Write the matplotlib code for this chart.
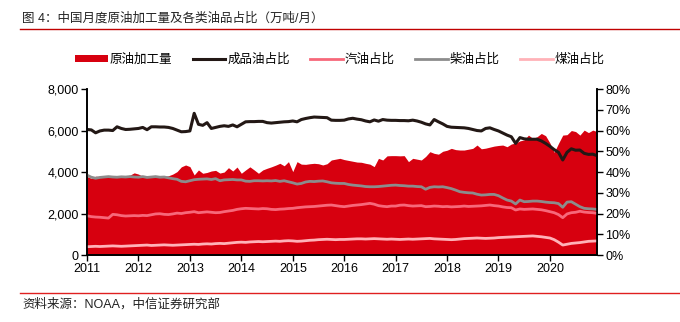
import numpy as np
import matplotlib
matplotlib.use("Agg")
import matplotlib.pyplot as plt
from matplotlib.ticker import FuncFormatter

plt.rcParams['font.family'] = ['Liberation Sans', 'Noto Sans CJK SC']

# monthly data, Jan 2011 - Dec 2020
crude = [  # 原油加工量, 万吨
    3780, 3700, 3800, 3780, 3790, 3760, 3800, 3780, 3790, 3800, 3850, 3960,
    3900, 3790, 3800, 3790, 3780, 3800, 3790, 3820, 3900, 4020, 4250, 4340,
    4260, 3860, 4100, 3940, 3980, 4050, 4080, 3950, 4000, 4210, 4050, 4240,
    3940, 4100, 4250, 4100, 3940, 4100, 4180, 4250, 4330, 4420, 4300, 4500,
    4020, 4500, 4380, 4370, 4400, 4420, 4400, 4340, 4400, 4580, 4620, 4660,
    4600, 4560, 4520, 4480, 4470, 4420, 4380, 4260, 4660, 4580, 4780, 4790,
    4790, 4780, 4790, 4500, 4660, 4620, 4580, 4750, 4980, 4900, 4860, 5000,
    5050, 5140, 5080, 5060, 5060, 5100, 5140, 5300, 5120, 5150, 5200, 5250,
    5280, 5300, 5220, 5350, 5400, 5500, 5550, 5780, 5620, 5700, 5860, 5750,
    5400, 4950, 5380, 5780, 5800, 6000, 5950, 5780, 6020, 5900, 6020, 5950,
]
refined = [  # 成品油占比, %
    60.5, 60.3, 58.9, 59.8, 60.2, 60.2, 60.0, 61.8, 61.0, 60.5, 60.6, 60.8,
    61.0, 61.5, 60.4, 61.8, 61.8, 61.7, 61.7, 61.5, 61.0, 60.2, 59.4, 59.5,
    59.8, 68.3, 63.0, 62.5, 63.8, 61.0, 61.5, 62.0, 62.3, 62.0, 62.7, 61.8,
    63.0, 64.2, 64.3, 64.3, 64.4, 64.4, 63.8, 63.6, 63.8, 64.0, 64.2, 64.3,
    64.6, 64.2, 65.3, 65.8, 66.2, 66.5, 66.4, 66.3, 66.2, 65.0, 64.9, 64.9,
    65.0, 65.6, 65.9, 65.5, 65.2, 64.6, 64.2, 65.1, 64.5, 65.3, 65.0, 64.9,
    64.9, 64.8, 64.8, 64.7, 65.0, 64.6, 64.0, 63.2, 62.7, 65.3, 64.2, 63.2,
    62.0, 61.6, 61.5, 61.4, 61.3, 61.0, 60.5, 60.0, 59.8, 61.0, 61.3, 60.5,
    59.8, 58.8, 57.8, 57.0, 53.8, 56.6, 56.0, 55.8, 55.8, 55.8, 55.0, 53.8,
    52.4, 50.8, 49.5, 45.8, 49.5, 51.2, 50.5, 50.6, 49.0, 48.5, 48.6, 47.9,
]
gasoline = [  # 汽油占比, %
    18.9, 18.5, 18.3, 18.2, 18.0, 17.8, 19.6, 19.4, 19.0, 18.8, 18.9, 19.0,
    18.9, 19.1, 19.0, 19.4, 19.8, 19.9, 19.6, 19.5, 19.8, 20.2, 20.0, 20.4,
    20.6, 20.9, 20.4, 20.6, 20.8, 20.6, 20.4, 20.5, 20.9, 21.2, 21.5, 22.0,
    22.3, 22.5, 22.4, 22.3, 22.2, 22.4, 22.3, 22.0, 21.9, 22.1, 22.2, 22.4,
    22.5, 22.8, 23.0, 23.2, 23.3, 23.4, 23.6, 23.8, 24.0, 24.1, 23.8, 23.5,
    23.3, 23.6, 23.9, 24.1, 24.3, 24.6, 24.9, 24.5, 23.8, 23.5, 23.3, 23.6,
    23.6, 24.0, 24.1, 23.8, 23.6, 23.7, 23.8, 23.3, 23.4, 23.6, 23.5, 23.3,
    23.4, 23.2, 23.3, 23.4, 23.6, 23.4, 23.5, 23.6, 23.7, 23.9, 24.1, 23.8,
    23.6, 23.2, 22.9, 22.8, 21.7, 22.2, 22.0, 22.1, 22.2, 22.0, 21.8, 21.4,
    20.9, 20.4, 19.5, 18.0, 19.8, 20.4, 20.6, 21.1, 20.7, 20.5, 20.4, 20.1,
]
diesel = [  # 柴油占比, %
    38.5, 37.5, 37.0, 37.4, 37.6, 37.8, 37.6, 37.5, 37.7, 37.6, 37.8, 37.6,
    37.5, 37.8, 37.4, 37.6, 37.8, 37.5, 37.6, 37.2, 36.8, 36.5, 35.5, 35.3,
    35.8, 36.3, 36.5, 36.6, 36.7, 36.4, 36.8, 35.8, 36.2, 36.3, 36.4, 36.2,
    36.2, 35.6, 35.5, 35.8, 35.8, 35.7, 35.8, 35.7, 35.9, 35.5, 35.8, 35.3,
    34.8, 34.2, 34.5, 35.2, 35.5, 35.4, 35.6, 35.7, 35.3, 34.8, 34.6, 34.5,
    34.5, 34.0, 33.7, 33.5, 33.3, 33.0, 32.9, 32.9, 33.0, 33.2, 33.4, 33.6,
    33.7, 33.5, 33.4, 33.2, 33.2, 33.0, 32.9, 31.7, 32.6, 32.9, 32.8, 32.9,
    32.5, 32.0, 31.3, 30.5, 30.2, 30.0, 29.9, 29.3, 28.9, 29.0, 29.2, 29.2,
    28.6, 27.5, 26.5, 26.0, 24.6, 26.5, 25.7, 25.8, 26.0, 26.0, 25.8, 25.5,
    25.3, 25.2, 24.8, 23.0, 25.5, 25.7, 24.5, 23.3, 22.5, 22.3, 22.2, 22.0,
]
kerosene = [  # 煤油占比, %
    4.0, 4.1, 4.2, 4.1, 4.2, 4.3, 4.4, 4.3, 4.2, 4.3, 4.4, 4.5,
    4.6, 4.7, 4.8, 4.6, 4.7, 4.8, 4.9, 4.8, 4.7, 4.8, 4.9, 5.0,
    5.1, 5.2, 5.1, 5.3, 5.4, 5.3, 5.5, 5.6, 5.5, 5.7, 5.9, 6.1,
    6.2, 6.1, 6.3, 6.4, 6.5, 6.4, 6.5, 6.6, 6.7, 6.6, 6.8, 6.9,
    6.8, 6.6, 6.7, 6.9, 7.1, 7.2, 7.4, 7.5, 7.6, 7.5, 7.4, 7.5,
    7.5, 7.6, 7.7, 7.8, 7.8, 7.7, 7.8, 7.9, 7.8, 7.7, 7.6, 7.7,
    7.6, 7.5, 7.6, 7.7, 7.6, 7.7, 7.8, 7.9, 8.0, 7.8, 7.7, 7.6,
    7.5, 7.4, 7.5, 7.7, 7.9, 8.0, 8.1, 8.2, 8.1, 8.0, 8.1, 8.2,
    8.4, 8.5, 8.6, 8.7, 8.8, 8.9, 9.0, 9.1, 9.2, 9.0, 8.8, 8.5,
    8.2, 7.4, 6.2, 4.8, 5.2, 5.6, 5.8, 6.0, 6.3, 6.6, 6.7, 6.8,
]
years = list(range(2011, 2021))

t = 2011 + np.arange(len(crude)) / 12.0

RED = '#d7000f'
BLACK = '#231815'
PINK = '#f7687a'
GRAY = '#8c8c8c'
LIGHT = '#ffb2b8'

fig = plt.figure(figsize=(6.8, 3.22), dpi=100)
ax = fig.add_axes([0.128, 0.208, 0.75, 0.5155])
ax2 = ax.twinx()

ax.fill_between(t, 0, crude, color=RED, lw=0, label='原油加工量')
ax2.plot(t, refined, color=BLACK, lw=2.2, label='成品油占比')
ax2.plot(t, gasoline, color=PINK, lw=2.0, label='汽油占比')
ax2.plot(t, diesel, color=GRAY, lw=2.0, label='柴油占比')
ax2.plot(t, kerosene, color=LIGHT, lw=2.0, label='煤油占比')

ax.set_xlim(2011, t[-1])
ax.set_ylim(0, 8000)
ax2.set_ylim(0, 80)
ax.set_xticks(years)
ax.set_xticklabels([str(y) for y in years])
ax.set_yticks(range(0, 8001, 2000))
ax.yaxis.set_major_formatter(FuncFormatter(lambda v, p: f'{int(v):,}'))
ax2.set_yticks(range(0, 81, 10))
ax2.yaxis.set_major_formatter(FuncFormatter(lambda v, p: f'{int(v)}%'))

for a in (ax, ax2):
    a.spines['top'].set_visible(False)
    for s in ('left', 'right', 'bottom'):
        a.spines[s].set_linewidth(1.2)
        a.spines[s].set_color('black')
    a.tick_params(direction='out', length=4, width=1, labelsize=9, pad=2)

# legend
h1, l1 = ax.get_legend_handles_labels()
h2, l2 = ax2.get_legend_handles_labels()
fig.legend(h1 + h2, l1 + l2, loc='center', bbox_to_anchor=(0.5, 0.815), ncol=5,
           frameon=False, fontsize=9, handlelength=2.6, handletextpad=0.2,
           columnspacing=1.6, handleheight=0.5)

# header / footer
fig.text(0.033, 0.944, '图 4：中国月度原油加工量及各类油品占比（万吨/月）',
         fontsize=9, va='center', ha='left', color='#222222')
fig.add_artist(plt.Line2D([0.03, 1.0], [0.91, 0.91], color='#c00000', lw=1))
fig.add_artist(plt.Line2D([0.03, 1.0], [0.09, 0.09], color='#e02020', lw=1))
fig.text(0.033, 0.053, '资料来源：NOAA，中信证券研究部',
         fontsize=9, va='center', ha='left', color='#222222')

fig.savefig('out.png', dpi=100)
